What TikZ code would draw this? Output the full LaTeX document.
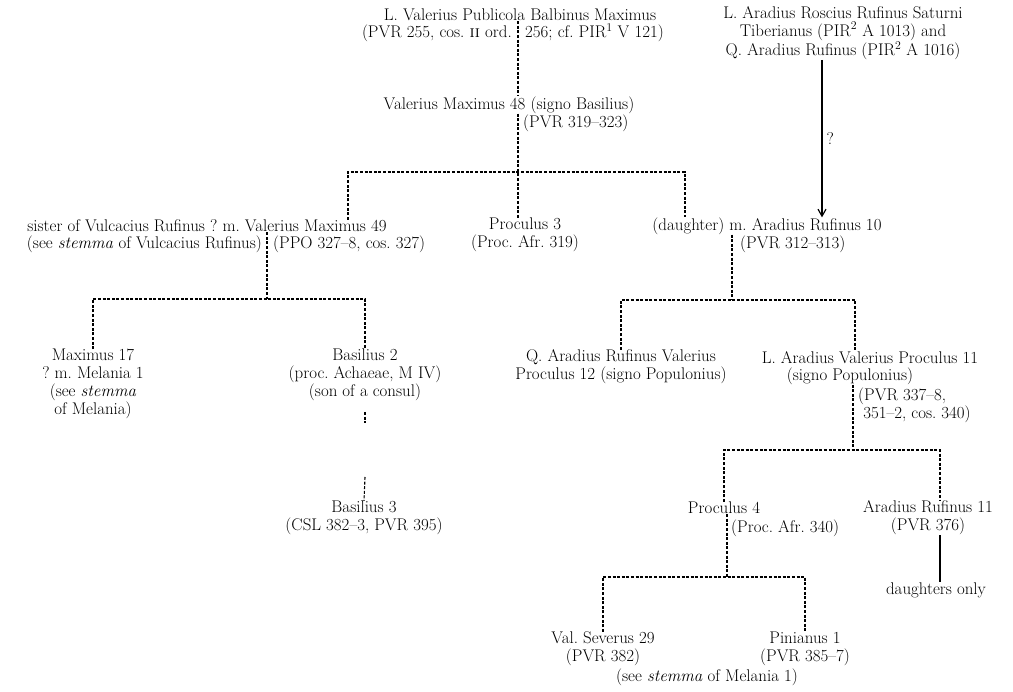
\documentclass[tikz,border=0pt]{standalone}
\usepackage{tikz}
\usetikzlibrary{arrows.meta}
\frenchspacing
\begin{document}
\begin{tikzpicture}[x=1pt,y=-1pt,
  pers/.style={align=center,inner sep=0pt,font=\fontsize{16.9}{17.8}\selectfont},
  dl/.style={line width=1.1pt,dash pattern=on 3pt off 1.6pt},
  sl/.style={line width=1.2pt},
  arr/.style={sl,-{Straight Barb[length=7pt,width=8pt]}}]
\useasboundingbox (0,0) rectangle (1013,692);
\node[pers] (balb) at (520,15) {L. Valerius Publicola Balbinus Maximus};
\node[pers,anchor=east] (balbA) at (512,33) {(PVR 255, cos. \textsc{ii} ord.};
\node[pers,anchor=west] (balbB) at (525,33) {256; cf. PIR\textsuperscript{1} V 121)};
\node[pers] (arad) at (843,33) {L. Aradius Roscius Rufinus Saturni\\Tiberianus (PIR\textsuperscript{2} A 1013) and\\Q. Aradius Rufinus (PIR\textsuperscript{2} A 1016)};
\node[pers] (vm48) at (509,105) {Valerius Maximus 48 (signo Basilius)};
\node[pers,anchor=west] (vm48b) at (523,123) {(PVR 319--323)};
\node[pers] (vm49) at (207,226) {sister of Vulcacius Rufinus ? m. Valerius Maximus 49};
\node[pers,anchor=east] (sis) at (262,244) {(see \textit{stemma} of Vulcacius Rufinus)};
\node[pers,anchor=west] (vm49b) at (273,244) {(PPO 327--8, cos. 327)};
\node[pers] (proc3) at (525,235) {Proculus 3\\(Proc. Afr. 319)};
\node[pers] (dau) at (767,226) {(daughter) m. Aradius Rufinus 10};
\node[pers,anchor=west] (daub) at (740,244) {(PVR 312--313)};
\node[pers] (max17) at (93,384) {Maximus 17\\? m. Melania 1\\(see \textit{stemma}\\of Melania)};
\node[pers] (bas2) at (365,375) {Basilius 2\\(proc. Achaeae, M IV)\\(son of a consul)};
\node[pers] (bas3) at (364,518) {Basilius 3\\(CSL 382--3, PVR 395)};
\node[pers] (qar12) at (621,367) {Q. Aradius Rufinus Valerius\\Proculus 12 (signo Populonius)};
\node[pers] (lavp11) at (870,358) {L. Aradius Valerius Proculus 11};
\node[pers] (lavp11b) at (850,376) {(signo Populonius)};
\node[pers,align=left,anchor=north west] (lavp11c) at (858,388) {(PVR 337--8,\\\ 351--2, cos. 340)};
\node[pers] (proc4) at (724,508) {Proculus 4};
\node[pers,anchor=west] (proc4b) at (731,528) {(Proc. Afr. 340)};
\node[pers] (arr11) at (928,518) {Aradius Rufinus 11\\(PVR 376)};
\node[pers] (donly) at (936,590) {daughters only};
\node[pers] (vsev) at (603,649) {Val. Severus 29\\(PVR 382)};
\node[pers] (pin) at (805,649) {Pinianus 1\\(PVR 385--7)};
\node[pers] (mel) at (707,677) {(see \textit{stemma} of Melania 1)};
\coordinate (j1) at (518,172);
\coordinate (j1l) at (348,172);
\coordinate (j1r) at (685,172);
\coordinate (j2) at (267,299);
\coordinate (j3) at (732,300);
\coordinate (j3r) at (855,300);
\coordinate (j4) at (853,450);
\coordinate (j4r) at (940,450);
\coordinate (j5) at (727,577);
\coordinate (k0) at (365,412);
\coordinate (k1) at (365,423);
\coordinate (k2) at (365,477);
\coordinate (q) at (822,0);
\draw[dl] (j1 |- balb.south) -- (j1 |- vm48.north);
\draw[dl] (j1 |- vm48.south) -- (j1 |- proc3.north);
\draw[dl] (vm49.north -| j1l) |- (j1) -| (dau.north -| j1r);
\draw[arr] (q |- arad.south) -- (q |- dau.north) node[pers,midway,right=4pt] (qm) {?};
\draw[dl] (j2 |- vm49.south) -- (j2);
\draw[dl] (max17.north) |- (j2) -| (bas2.north);
\draw[dl] (k0) -- (k1);
\draw[dl] (k2) -- (bas3.north);
\draw[dl] (j3 |- dau.south) -- (j3);
\draw[dl] (qar12.north) |- (j3) -| (lavp11.north -| j3r);
\draw[dl] (j4 |- lavp11b.south) -- (j4);
\draw[dl] (proc4.north) |- (j4) -| (arr11.north -| j4r);
\draw[sl] (arr11.south -| j4r) -- (donly.north -| j4r);
\draw[dl] (j5 |- proc4.south) -- (j5);
\draw[dl] (vsev.north) |- (j5) -| (pin.north);
\end{tikzpicture}
\end{document}
